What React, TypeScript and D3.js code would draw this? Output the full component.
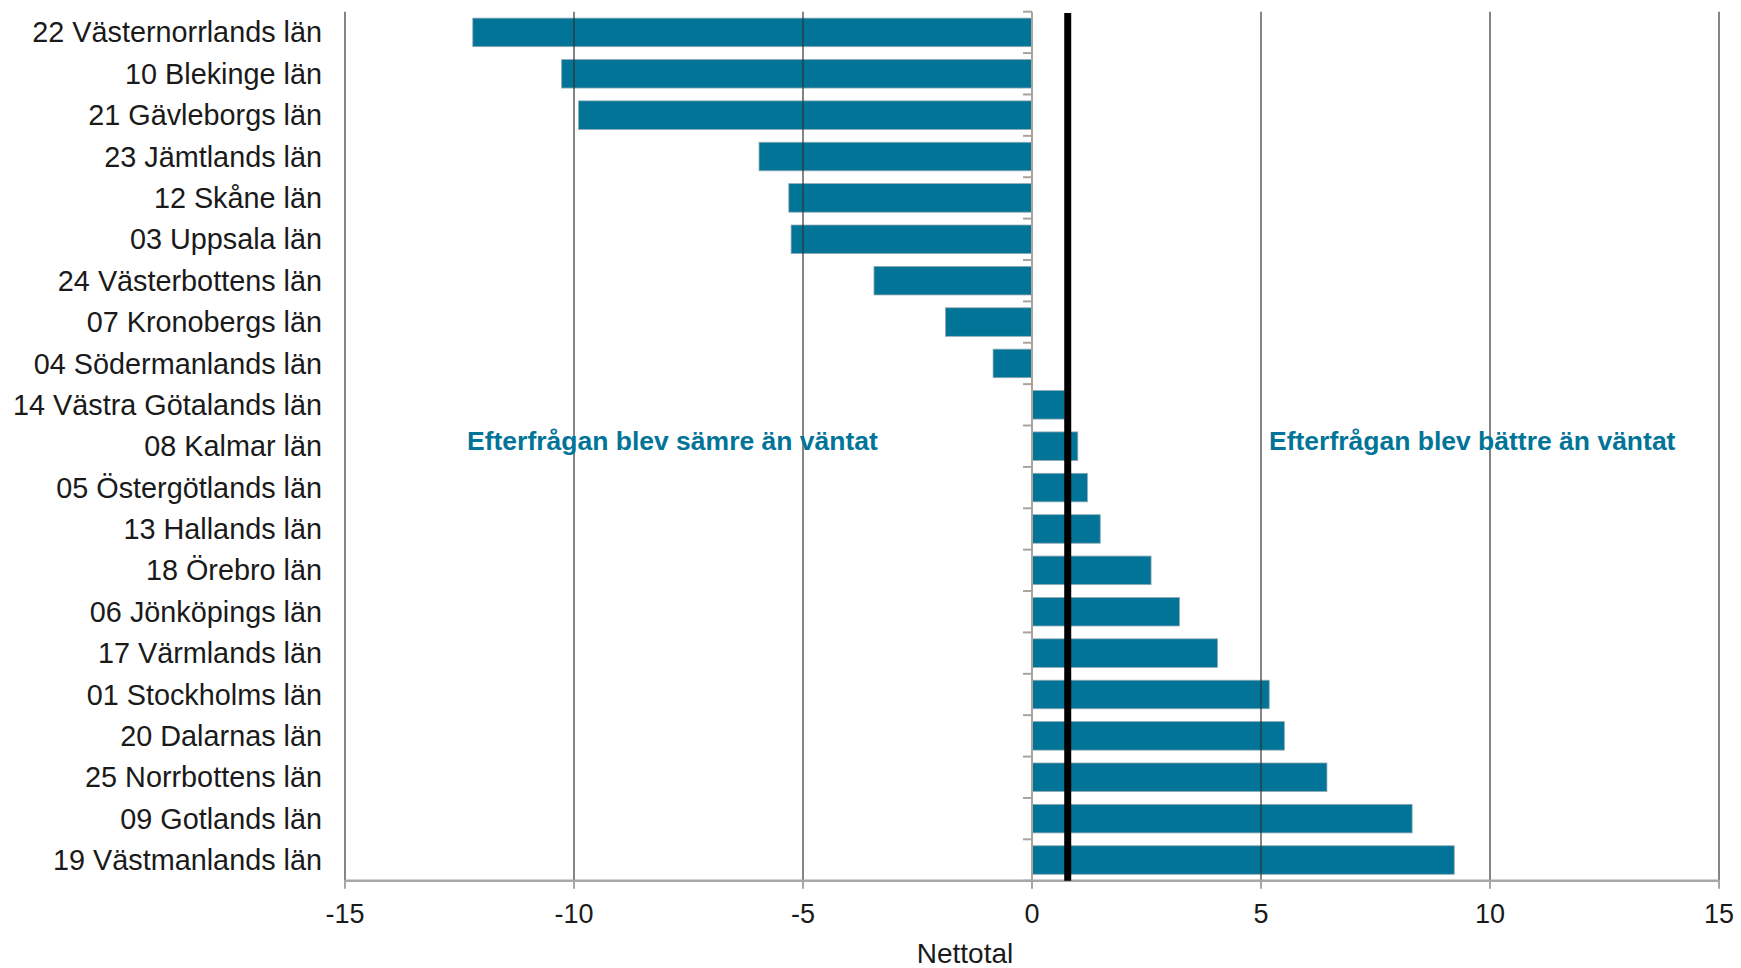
import React from "react";
import * as d3 from "d3";

const categories: string[] = [
  "22 Västernorrlands län",
  "10 Blekinge län",
  "21 Gävleborgs län",
  "23 Jämtlands län",
  "12 Skåne län",
  "03 Uppsala län",
  "24 Västerbottens län",
  "07 Kronobergs län",
  "04 Södermanlands län",
  "14 Västra Götalands län",
  "08 Kalmar län",
  "05 Östergötlands län",
  "13 Hallands län",
  "18 Örebro län",
  "06 Jönköpings län",
  "17 Värmlands län",
  "01 Stockholms län",
  "20 Dalarnas län",
  "25 Norrbottens län",
  "09 Gotlands län",
  "19 Västmanlands län",
];

const values: number[] = [
  -12.21, -10.27, -9.9, -5.96, -5.31, -5.26, -3.45, -1.89, -0.85,
  0.71, 1.0, 1.21, 1.49, 2.6, 3.22, 4.05, 5.18, 5.51, 6.44, 8.3, 9.22,
];

const averageValue = 0.78;
const xTicks: number[] = [-15, -10, -5, 0, 5, 10, 15];
const xTitle = "Nettotal";
const noteLeft = "Efterfrågan blev sämre än väntat";
const noteRight = "Efterfrågan blev bättre än väntat";

const W = 1741;
const H = 968;
const M = { left: 345, right: 1719, top: 11.7, bottom: 880.7 };
const TEAL = "#017497";
const FONT = "'Liberation Sans', Arial, sans-serif";

export default function App() {
  const x = d3.scaleLinear().domain([-15, 15]).range([M.left, M.right]);
  const y = d3
    .scaleBand<string>()
    .domain(categories)
    .range([M.top, M.bottom])
    .paddingInner(0.31)
    .paddingOuter(0.155);
  const step = y.step();
  const x0 = x(0);
  const boundaries = d3.range(categories.length + 1).map((i) => M.top + i * step);

  return (
    <svg
      width={W}
      height={H}
      style={{ position: "absolute", left: 0, top: 0, background: "#fff" }}
      fontFamily={FONT}
    >
      {/* bars */}
      {categories.map((c, i) => {
        const v = values[i];
        const xa = Math.min(x(0), x(v));
        const w = Math.abs(x(v) - x(0));
        return (
          <rect
            key={c}
            x={xa}
            y={y(c)!}
            width={w}
            height={y.bandwidth()}
            fill={TEAL}
            stroke="#93aab3"
            strokeWidth={0.8}
          />
        );
      })}

      {/* vertical gridlines */}
      {xTicks
        .filter((t) => t !== 0)
        .map((t) => (
          <line
            key={"g" + t}
            x1={x(t)}
            x2={x(t)}
            y1={M.top}
            y2={M.bottom}
            stroke="#333333"
            strokeWidth={1.2}
          />
        ))}

      {/* zero axis with category ticks */}
      <line x1={x0} x2={x0} y1={M.top} y2={M.bottom} stroke="#a8a39c" strokeWidth={2} />
      {boundaries.map((b, i) => (
        <line key={"ct" + i} x1={x0 - 9} x2={x0} y1={b} y2={b} stroke="#a8a39c" strokeWidth={2} />
      ))}

      {/* bottom axis */}
      <line x1={M.left} x2={M.right} y1={M.bottom} y2={M.bottom} stroke="#a6a6a6" strokeWidth={2.5} />
      {xTicks.map((t) => (
        <g key={"t" + t}>
          <line x1={x(t)} x2={x(t)} y1={M.bottom} y2={M.bottom + 8} stroke="#a6a6a6" strokeWidth={2} />
          <text x={x(t)} y={923} textAnchor="middle" fontSize={27} fill="#1a1a1a">
            {t}
          </text>
        </g>
      ))}
      <text x={965} y={963} textAnchor="middle" fontSize={28} fill="#1a1a1a">
        {xTitle}
      </text>

      {/* category labels */}
      {categories.map((c) => (
        <text
          key={"l" + c}
          x={322}
          y={y(c)! + y.bandwidth() / 2}
          dy="0.35em"
          textAnchor="end"
          fontSize={28.8}
          fill="#1a1a1a"
        >
          {c}
        </text>
      ))}

      {/* average line */}
      <line
        x1={x(averageValue)}
        x2={x(averageValue)}
        y1={13}
        y2={M.bottom}
        stroke="#000"
        strokeWidth={7}
      />

      {/* annotations */}
      <text x={467} y={450} fontSize={26.5} fontWeight="bold" fill={TEAL}>
        {noteLeft}
      </text>
      <text x={1269} y={450} fontSize={26.5} fontWeight="bold" fill={TEAL}>
        {noteRight}
      </text>
    </svg>
  );
}
